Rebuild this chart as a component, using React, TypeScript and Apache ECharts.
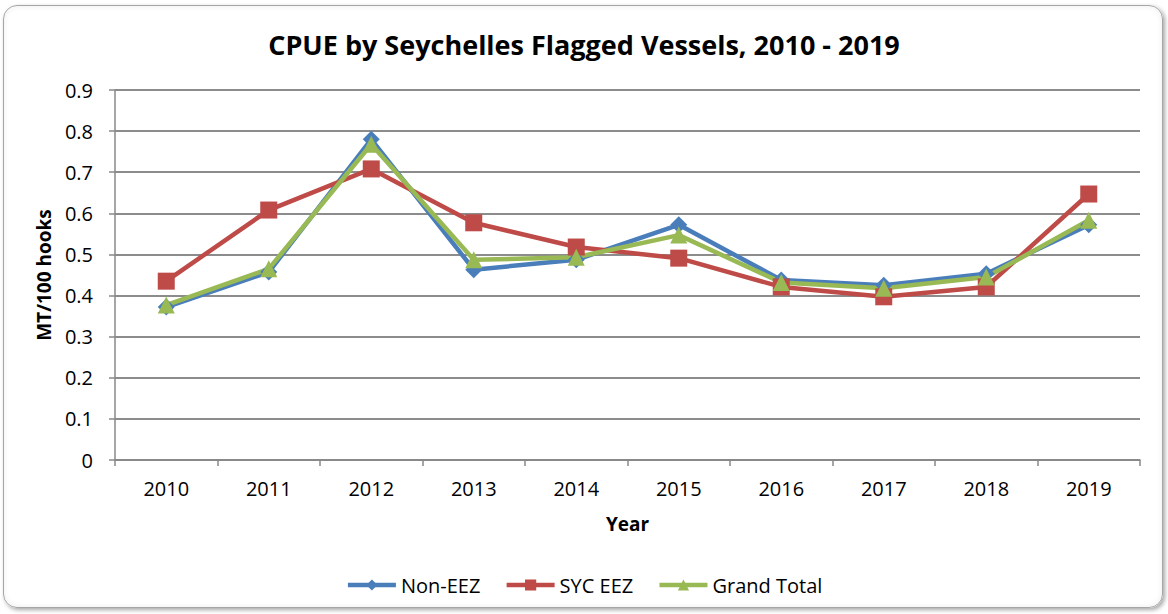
import React, { useEffect, useRef } from "react";
import * as echarts from "echarts";

const years = ["2010", "2011", "2012", "2013", "2014", "2015", "2016", "2017", "2018", "2019"];
const nonEEZ = [0.372, 0.457, 0.78, 0.463, 0.487, 0.572, 0.438, 0.425, 0.453, 0.572];
const sycEEZ = [0.435, 0.608, 0.708, 0.577, 0.518, 0.491, 0.421, 0.397, 0.421, 0.647];
const grandTotal = [0.377, 0.465, 0.768, 0.487, 0.493, 0.547, 0.432, 0.418, 0.445, 0.583];

const FONT = "'Open Sans', 'Noto Sans', sans-serif";

export default function App() {
  const ref = useRef<HTMLDivElement>(null);
  useEffect(() => {
    document.body.style.margin = "0";
    const chart = echarts.init(ref.current!, null, { renderer: "svg" });
    const mk = (name: string, data: number[], color: string, symbol: string, size: number) => ({
      name,
      type: "line",
      data,
      symbol,
      symbolSize: size,
      lineStyle: { width: 4.5, color },
      itemStyle: { color },
      z: 3,
    });
    chart.setOption({
      animation: false,
      backgroundColor: "transparent",
      textStyle: { fontFamily: FONT },
      title: {
        text: "CPUE by Seychelles Flagged Vessels, 2010 - 2019",
        left: "center",
        top: 26,
        textStyle: { fontFamily: FONT, fontWeight: "bold", fontSize: 27, color: "#000" },
      },
      grid: { left: 115, right: 28, top: 90, bottom: 154 },
      legend: {
        bottom: 14,
        left: "center",
        itemWidth: 48,
        itemHeight: 14,
        itemGap: 24,
        lineStyle: { width: 4.5 },
        textStyle: { fontFamily: FONT, fontSize: 20, color: "#000" },
        data: ["Non-EEZ", "SYC EEZ", "Grand Total"],
      },
      xAxis: {
        type: "category",
        data: years,
        boundaryGap: true,
        name: "Year",
        nameLocation: "middle",
        nameGap: 54,
        nameTextStyle: { fontFamily: FONT, fontWeight: "bold", fontSize: 19, color: "#000" },
        axisLine: { lineStyle: { color: "#888", width: 1.5 } },
        axisTick: { show: true, length: 6, alignWithLabel: false, lineStyle: { color: "#888", width: 1.5 } },
        axisLabel: { fontFamily: FONT, fontSize: 20, color: "#000", margin: 18 },
      },
      yAxis: {
        type: "value",
        min: 0,
        max: 0.9,
        interval: 0.1,
        name: "MT/100 hooks",
        nameLocation: "middle",
        nameGap: 62,
        nameTextStyle: { fontFamily: FONT, fontWeight: "bold", fontSize: 19, color: "#000" },
        axisLine: { show: true, lineStyle: { color: "#888", width: 1.5 } },
        axisTick: { show: true, length: 6, lineStyle: { color: "#888", width: 1.5 } },
        axisLabel: {
          fontFamily: FONT,
          fontSize: 20,
          color: "#000",
          margin: 22,
          formatter: (v: number) => String(Math.round(v * 10) / 10),
        },
        splitLine: { lineStyle: { color: "#8c8c8c", width: 2 } },
      },
      series: [
        mk("Non-EEZ", nonEEZ, "#4A7EBB", "diamond", 17),
        mk("SYC EEZ", sycEEZ, "#BE4B48", "rect", 17),
        mk("Grand Total", grandTotal, "#98B954", "triangle", 17),
      ],
    });
    return () => chart.dispose();
  }, []);
  return (
    <div
      style={{
        position: "absolute",
        left: 0,
        top: 0,
        width: 1168,
        height: 614,
        background: "#fff",
      }}
    >
      <div
        style={{
          position: "absolute",
          left: 3,
          top: 5,
          width: 1160,
          height: 603,
          border: "1px solid #a6a6a6",
          borderRadius: 14,
          boxShadow: "inset 0 0 6px rgba(0,0,0,0.08), 2px 2px 4px rgba(0,0,0,0.35)",
          boxSizing: "border-box",
        }}
      />
      <div ref={ref} style={{ position: "absolute", left: 0, top: 0, width: 1168, height: 614 }} />
    </div>
  );
}
